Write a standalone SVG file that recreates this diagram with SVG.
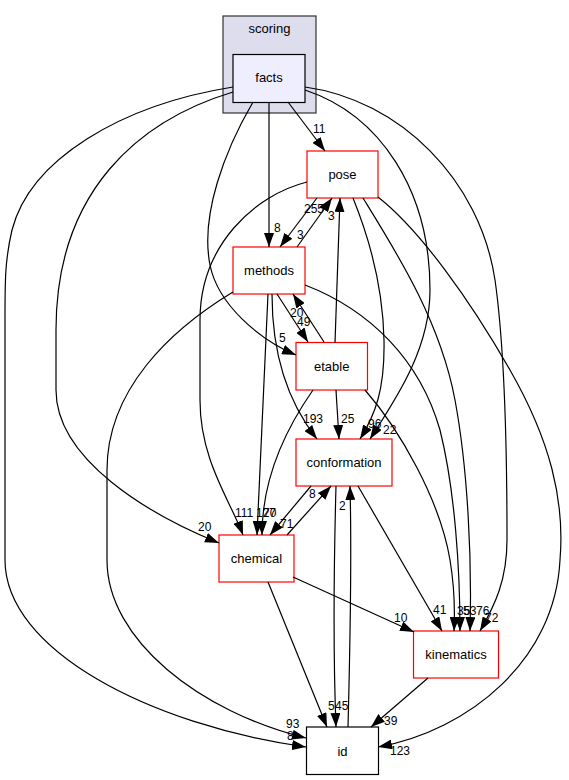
<svg xmlns="http://www.w3.org/2000/svg" width="569" height="780" viewBox="0 0 569 780">
<style>
.n{font-family:"Liberation Sans",Arial,Helvetica,sans-serif;font-size:13px;text-anchor:middle;fill:#000}
.l{font-family:"Liberation Sans",Arial,Helvetica,sans-serif;font-size:12px;fill:#000}
.e{fill:none;stroke:#000;stroke-width:1.2;marker-end:url(#ah)}
.r{fill:#fff;stroke:#ff0000;stroke-width:1.2}
.b{fill:#fff;stroke:#000;stroke-width:1.2}
</style>
<defs>
<marker id="ah" markerWidth="14" markerHeight="10" refX="14" refY="5" orient="auto" markerUnits="userSpaceOnUse">
<path d="M0,0 L14,5 L0,10 z" fill="#000"/>
</marker>
</defs>
<rect width="569" height="780" fill="#fff"/>
<g id="cluster_scoring">
<rect x="223" y="16" width="93" height="97" fill="#ddddee" stroke="#333" stroke-width="1.2"/>
<text class="n" x="269.5" y="33">scoring</text>
</g>
<g id="node_facts">
<rect x="233" y="54.5" width="72" height="48" fill="#eeeeff" stroke="#000" stroke-width="1.2"/>
<text class="n" x="269" y="82">facts</text>
</g>
<g id="node_pose">
<rect class="r" x="307" y="151" width="71" height="47"/>
<text class="n" x="342.5" y="179">pose</text>
</g>
<g id="node_methods">
<rect class="r" x="233" y="247" width="72" height="47"/>
<text class="n" x="269" y="275">methods</text>
</g>
<g id="node_etable">
<rect class="r" x="296" y="342.5" width="71.5" height="47.5"/>
<text class="n" x="331.7" y="371">etable</text>
</g>
<g id="node_conformation">
<rect class="r" x="296" y="439" width="96" height="47"/>
<text class="n" x="344" y="467">conformation</text>
</g>
<g id="node_chemical">
<rect class="r" x="219" y="535" width="75" height="47"/>
<text class="n" x="256.5" y="563">chemical</text>
</g>
<g id="node_kinematics">
<rect class="r" x="413.5" y="631" width="85" height="47"/>
<text class="n" x="456" y="659">kinematics</text>
</g>
<g id="node_id">
<rect class="b" x="306.5" y="727" width="72" height="47.5"/>
<text class="n" x="342.5" y="756">id</text>
</g>
<g id="edges">
<path class="e" d="M288,102 C300,118 312,134 325,151"/>
<text class="l" x="313" y="133">11</text>
<path class="e" d="M269,102 L269,247"/>
<text class="l" x="274" y="232">8</text>
<path class="e" d="M253,102 C225,150 200,215 210,265 C218,305 260,340 296,355"/>
<text class="l" x="279" y="342">5</text>
<path class="e" d="M305,90 C380,115 430,190 430,290 C430,350 395,400 370,439"/>
<text class="l" x="383" y="434">22</text>
<path class="e" d="M305,87 C400,100 480,180 495,280 C505,350 507,450 507,540 C507,580 495,605 480,631"/>
<text class="l" x="485" y="622">72</text>
<path class="e" d="M233,92 C140,120 56,190 56,330 L56,390 C56,460 150,515 219,543"/>
<text class="l" x="198" y="531">20</text>
<path class="e" d="M233,87 C120,105 30,160 12,230 C5,260 5,280 5,320 L5,560 C5,650 150,725 306,747"/>
<text class="l" x="287" y="740">8</text>
<path class="e" d="M317,198 L280,247"/>
<text class="l" x="297" y="239">3</text>
<path class="e" d="M297,247 L332,198"/>
<text class="l" x="304" y="213">255</text>
<path class="e" d="M335,343 L340,198"/>
<text class="l" x="328" y="220">3</text>
<path class="e" d="M307,182 C255,195 200,245 200,320 L200,400 C200,460 230,500 243,535"/>
<text class="l" x="235" y="517">111</text>
<path class="e" d="M353,198 C370,240 383,290 384,340 C385,390 375,415 360,439"/>
<text class="l" x="368" y="428">96</text>
<path class="e" d="M363,198 C395,250 440,320 455,400 C468,470 472,560 470,631"/>
<text class="l" x="476" y="615">76</text>
<path class="e" d="M378,197 C420,230 470,300 510,370 C550,440 565,500 560,560 C555,660 470,730 378,747"/>
<text class="l" x="390" y="755">123</text>
<path class="e" d="M277,294 L308,342"/>
<text class="l" x="297" y="326">49</text>
<path class="e" d="M324,342 L293,294"/>
<text class="l" x="290" y="317">20</text>
<path class="e" d="M272,294 C272,360 290,405 317,439"/>
<text class="l" x="303" y="423">193</text>
<path class="e" d="M268,294 L257,535"/>
<text class="l" x="256" y="517">127</text>
<path class="e" d="M305,285 C370,310 420,360 440,430 C455,490 460,570 460,631"/>
<text class="l" x="463" y="615">53</text>
<path class="e" d="M233,292 C170,330 107,390 107,470 L107,560 C107,640 200,712 306,738"/>
<text class="l" x="286" y="728">93</text>
<path class="e" d="M336,390 L339,439"/>
<text class="l" x="341" y="423">25</text>
<path class="e" d="M313,390 C285,430 262,480 262,535"/>
<text class="l" x="263" y="517">70</text>
<path class="e" d="M365,390 C400,430 440,500 450,560 C455,590 455,610 454,631"/>
<text class="l" x="457" y="615">35</text>
<path class="e" d="M311,486 L270,535"/>
<text class="l" x="280" y="528">71</text>
<path class="e" d="M287,535 L331,486"/>
<text class="l" x="309" y="498">8</text>
<path class="e" d="M358,486 L442,631"/>
<text class="l" x="433" y="614">41</text>
<path class="e" d="M336,486 C334,560 333,650 336,727"/>
<text class="l" x="335" y="710">45</text>
<path class="e" d="M348,727 C350,650 352,560 350,486"/>
<text class="l" x="339" y="510">2</text>
<path class="e" d="M293,577 L414,632"/>
<text class="l" x="394" y="622">10</text>
<path class="e" d="M268,582 L327,727"/>
<text class="l" x="328" y="710">5</text>
<path class="e" d="M428,678 L371,727"/>
<text class="l" x="384" y="725">39</text>
</g>
</svg>
